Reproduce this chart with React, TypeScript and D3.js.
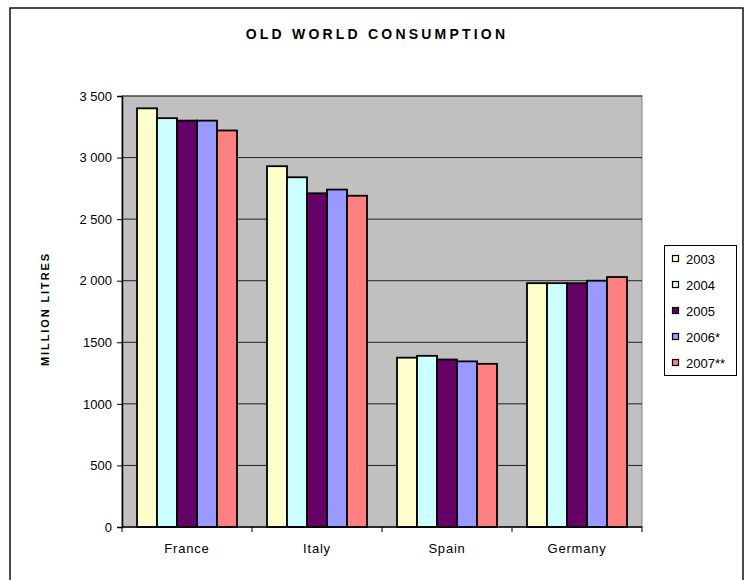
import { useEffect, useRef } from 'react';
import * as d3 from 'd3';

const countries = ['France', 'Italy', 'Spain', 'Germany'];
const years = ['2003', '2004', '2005', '2006*', '2007**'];
const v2003 = [3400, 2930, 1375, 1980];
const v2004 = [3320, 2840, 1390, 1980];
const v2005 = [3300, 2710, 1360, 1980];
const v2006 = [3300, 2740, 1345, 2000];
const v2007 = [3220, 2690, 1325, 2030];
const yTicks = [0, 500, 1000, 1500, 2000, 2500, 3000, 3500];
const yTickLabels = ['0', '500', '1000', '1500', '2 000', '2 500', '3 000', '3 500'];
const colors = ['#FFFFCC', '#CCFFFF', '#660066', '#9999FF', '#FF8080'];

const FONT = '"Liberation Sans", Arial, sans-serif';

export default function App() {
  const svgRef = useRef<SVGSVGElement>(null);

  useEffect(() => {
    if (!svgRef.current) return;
    const svg = d3.select(svgRef.current);
    svg.selectAll('*').remove();

    const height = 580;
    const series = [v2003, v2004, v2005, v2006, v2007];
    const plot = { left: 122, right: 642, top: 96, bottom: 527 };

    // outer frame (bottom edge is cut off)
    svg.append('path')
      .attr('d', `M10,${height} L10,8 L743,8 L743,${height}`)
      .attr('fill', 'none')
      .attr('stroke', '#111')
      .attr('stroke-width', 1.5);

    const x0 = d3.scaleBand().domain(countries).range([plot.left, plot.right]);
    const x1 = d3.scaleBand().domain(years).range([15, x0.bandwidth() - 15]);
    const y = d3.scaleLinear().domain([0, 3500]).range([plot.bottom, plot.top]);

    // plot background
    svg.append('rect')
      .attr('x', plot.left)
      .attr('y', plot.top)
      .attr('width', plot.right - plot.left)
      .attr('height', plot.bottom - plot.top)
      .attr('fill', '#C0C0C0')
      .attr('stroke', '#808080')
      .attr('stroke-width', 1);

    // gridlines
    svg.append('g')
      .selectAll('line')
      .data(yTicks.filter(t => t > 0))
      .enter()
      .append('line')
      .attr('x1', plot.left)
      .attr('x2', plot.right)
      .attr('y1', d => y(d))
      .attr('y2', d => y(d))
      .attr('stroke', '#222')
      .attr('stroke-width', 1);

    // bars
    countries.forEach((c, ci) => {
      const g = svg.append('g').attr('transform', `translate(${x0(c)},0)`);
      g.selectAll('rect')
        .data(series.map((s, si) => ({ year: years[si], value: s[ci], color: colors[si] })))
        .enter()
        .append('rect')
        .attr('x', d => x1(d.year) || 0)
        .attr('y', d => y(d.value))
        .attr('width', x1.bandwidth())
        .attr('height', d => plot.bottom - y(d.value))
        .attr('fill', d => d.color)
        .attr('stroke', '#000')
        .attr('stroke-width', 1.8);
    });

    // y axis
    const yAxis = svg.append('g')
      .attr('transform', `translate(${plot.left},0)`)
      .call(d3.axisLeft(y).tickValues(yTicks).tickSize(5).tickPadding(5)
        .tickFormat((d, i) => yTickLabels[i]));
    yAxis.select('.domain').attr('stroke', '#000').attr('stroke-width', 1.5);
    yAxis.selectAll('.tick line').attr('stroke', '#000');
    yAxis.selectAll('text')
      .attr('font-family', FONT)
      .attr('font-size', '13px')
      .attr('fill', '#000');

    // x axis
    const xAxisG = svg.append('g').attr('transform', `translate(0,${plot.bottom})`);
    xAxisG.append('line')
      .attr('x1', plot.left)
      .attr('x2', plot.right)
      .attr('stroke', '#000')
      .attr('stroke-width', 1.5);
    xAxisG.selectAll('.tk')
      .data(countries.concat(['end']))
      .enter()
      .append('line')
      .attr('class', 'tk')
      .attr('x1', (d, i) => plot.left + i * x0.step())
      .attr('x2', (d, i) => plot.left + i * x0.step())
      .attr('y1', 0)
      .attr('y2', 5)
      .attr('stroke', '#000');
    xAxisG.selectAll('text')
      .data(countries)
      .enter()
      .append('text')
      .attr('x', d => (x0(d) || 0) + x0.bandwidth() / 2)
      .attr('y', 26)
      .attr('text-anchor', 'middle')
      .attr('font-family', FONT)
      .attr('font-size', '13px')
      .attr('letter-spacing', '0.8px')
      .text(d => d);

    // title
    svg.append('text')
      .attr('x', 377)
      .attr('y', 39)
      .attr('text-anchor', 'middle')
      .attr('font-family', FONT)
      .attr('font-size', '14px')
      .attr('font-weight', '700')
      .attr('letter-spacing', '3.2px')
      .text('OLD WORLD CONSUMPTION');

    // y label
    svg.append('text')
      .attr('transform', `translate(49,309) rotate(-90)`)
      .attr('text-anchor', 'middle')
      .attr('font-family', FONT)
      .attr('font-size', '11px')
      .attr('font-weight', '700')
      .attr('letter-spacing', '1.9px')
      .text('MILLION LITRES');

    // legend
    const legend = svg.append('g');
    legend.append('rect')
      .attr('x', 664.5)
      .attr('y', 245.5)
      .attr('width', 72)
      .attr('height', 130)
      .attr('fill', '#fff')
      .attr('stroke', '#000')
      .attr('stroke-width', 1);
    const items = legend.selectAll('.item')
      .data(years)
      .enter()
      .append('g')
      .attr('transform', (d, i) => `translate(672,${259 + i * 26})`);
    items.append('rect')
      .attr('x', 0.5)
      .attr('y', -3.5)
      .attr('width', 6)
      .attr('height', 6)
      .attr('fill', (d, i) => colors[i])
      .attr('stroke', '#000')
      .attr('stroke-width', 1.2);
    items.append('text')
      .attr('x', 14)
      .attr('y', 5)
      .attr('font-family', FONT)
      .attr('font-size', '13px')
      .text(d => d);
  }, []);

  return (
    <svg
      ref={svgRef}
      width={748}
      height={580}
      style={{ position: 'absolute', left: 0, top: 0, background: '#fff' }}
    />
  );
}
